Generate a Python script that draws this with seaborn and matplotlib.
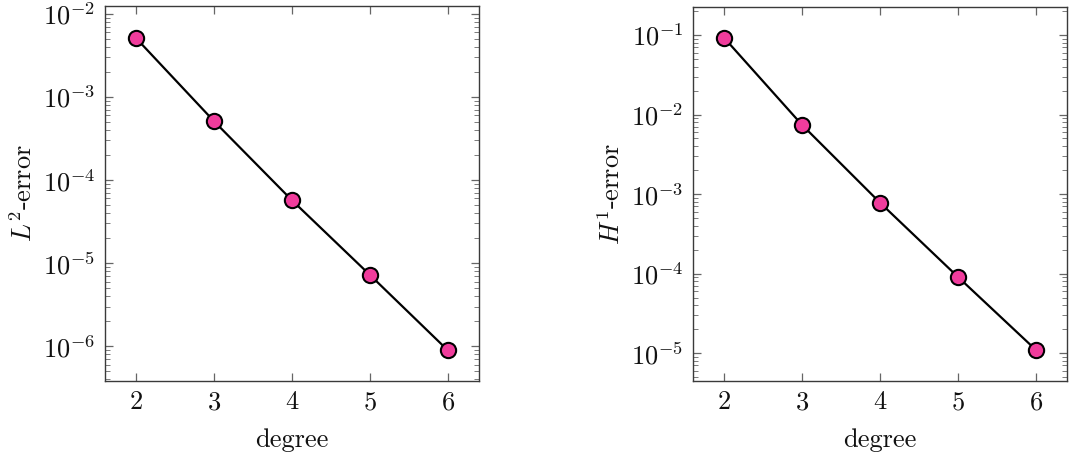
import matplotlib
matplotlib.use("Agg")
import matplotlib.pyplot as plt
import matplotlib.ticker as mticker
import seaborn as sns
import numpy as np
import pandas as pd

### values
DEGREE = [2, 3, 4, 5, 6]
L2_ERROR = [5.1e-3, 5.1e-4, 5.7e-5, 7.2e-6, 8.9e-7]
H1_ERROR = [9.2e-2, 7.4e-3, 7.8e-4, 9.1e-5, 1.1e-5]

sns.set_theme(style="ticks")
plt.rcParams["font.family"] = ["cmr10", "DejaVu Serif"]
plt.rcParams["mathtext.fontset"] = "cm"
plt.rcParams["axes.formatter.use_mathtext"] = True
plt.rcParams["axes.unicode_minus"] = True
plt.rcParams["text.color"] = "#111111"
plt.rcParams["axes.labelcolor"] = "#111111"

MARK = "#F03C9C"
FRAME = "#3a3a3a"
FS = 19

df = pd.DataFrame({"degree": DEGREE, "L2": L2_ERROR, "H1": H1_ERROR})

fig = plt.figure(figsize=(10.77, 4.53), dpi=100)
ax1 = fig.add_axes([105 / 1077, 1 - 381 / 453, 374 / 1077, 375 / 453])
ax2 = fig.add_axes([693 / 1077, 1 - 381 / 453, 374 / 1077, 374 / 453])


def draw(ax, col, ylabel, ylim):
    sns.lineplot(data=df, x="degree", y=col, ax=ax, color="black", lw=1.6,
                 marker="o", markersize=11, markerfacecolor=MARK,
                 markeredgecolor="black", markeredgewidth=1.5)
    ax.set_yscale("log")
    ax.set_xlim(1.6, 6.4)
    ax.set_ylim(*ylim)
    ax.set_xticks(DEGREE)
    ax.yaxis.set_major_locator(mticker.LogLocator(base=10, numticks=20))
    ax.yaxis.set_minor_locator(mticker.LogLocator(base=10, subs=np.arange(2, 10), numticks=20))
    ax.yaxis.set_minor_formatter(mticker.NullFormatter())
    ax.tick_params(which="both", direction="in", top=True, right=True,
                   color="#666666", labelcolor="#111111", labelsize=FS)
    ax.tick_params(which="major", length=6, width=0.9, pad=7)
    ax.tick_params(which="minor", length=3.5, width=0.6)
    for s in ax.spines.values():
        s.set_color(FRAME)
        s.set_linewidth(1.0)
    ax.set_xlabel("degree", fontsize=FS, labelpad=10)
    ax.set_ylabel(ylabel, fontsize=FS, labelpad=4)


draw(ax1, "L2", r"$L^2$-error", (10 ** -6.42, 10 ** -1.904))
draw(ax2, "H1", r"$H^1$-error", (10 ** -5.35, 10 ** -0.648))

fig.savefig("out.png", dpi=100)
